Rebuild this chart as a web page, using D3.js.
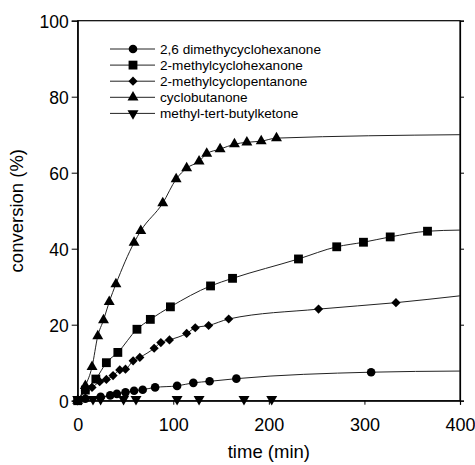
<!DOCTYPE html>
<html>
<head>
<meta charset="utf-8">
<script src="https://cdn.jsdelivr.net/npm/d3@7"></script>
<style>
  body { margin: 0; background: #fff; }
  text { font-family: Arial, "Liberation Sans", sans-serif; fill: #000; }
</style>
</head>
<body>
<svg id="chart" width="475" height="465"></svg>
<script>
// series names (legend order)
var seriesNames = ["2,6 dimethycyclohexanone", "2-methylcyclohexanone", "2-methylcyclopentanone", "cyclobutanone", "methyl-tert-butylketone"];

// 2,6 dimethycyclohexanone
var timeDMCH = [0, 8, 24, 34, 41, 50, 59, 68, 81, 104, 121, 138, 166, 307];
var convDMCH = [0, 0.5, 1.0, 1.4, 1.8, 2.2, 2.6, 2.9, 3.5, 3.9, 4.7, 5.1, 5.8, 7.5];
// 2-methylcyclohexanone
var timeMCH = [0, 8, 19, 30, 42, 62, 76, 97, 139, 162, 231, 271, 299, 327, 366];
var convMCH = [0, 2.8, 5.7, 10.0, 12.7, 18.8, 21.4, 24.7, 30.2, 32.2, 37.3, 40.5, 41.7, 43.1, 44.6];
// 2-methylcyclopentanone
var timeMCP = [0, 8, 15, 23, 30, 37, 44, 50, 58, 65, 80, 87, 96, 114, 123, 137, 158, 252, 333];
var convMCP = [0, 2.6, 3.5, 5.0, 5.6, 6.6, 8.1, 8.3, 10.5, 11.4, 13.8, 15.3, 16.0, 17.7, 19.2, 19.8, 21.5, 24.1, 25.8];
// cyclobutanone
var timeCB = [0, 8, 15, 21, 27, 33, 40, 59, 66, 89, 103, 114, 127, 135, 149, 164, 177, 192, 208];
var convCB = [0, 3.9, 8.9, 17.0, 21.2, 26.0, 30.7, 41.6, 44.7, 52.0, 58.3, 61.2, 63.0, 65.0, 66.2, 67.5, 68.0, 68.3, 69.1];
// methyl-tert-butylketone
var timeMTBK = [0, 16, 24, 48, 61, 104, 127, 174, 203];
var convMTBK = [0, 0, 0, 0, 0, 0, 0, 0, 0];

// fitted curves continue to the end of the time axis
var fitEndTime = 400;
var fitEndConv = [7.8, 44.9, 27.6, 70.0, null];

var xTicks = [0, 100, 200, 300, 400];
var yTicks = [0, 20, 40, 60, 80, 100];

var svg = d3.select("#chart"),
  margin = {top: 20.7, right: 15, bottom: 64.3, left: 77.7},
  width = 460 - margin.left,
  height = 400.7 - margin.top,
  g = svg.append("g").attr("transform", "translate(" + margin.left + "," + margin.top + ")");

var x = d3.scaleLinear().domain([0, 400]).range([0, width]);
var y = d3.scaleLinear().domain([0, 100]).range([height, 0]);

var symbols = [
  d3.symbol().type(d3.symbolCircle).size(58),
  d3.symbol().type(d3.symbolSquare).size(78),
  d3.symbol().type(d3.symbolSquare).size(42),
  d3.symbol().type(d3.symbolTriangle).size(52),
  d3.symbol().type(d3.symbolTriangle).size(52)
];
var rotations = [0, 0, 45, 0, 180];

var series = [
  {t: timeDMCH, c: convDMCH},
  {t: timeMCH, c: convMCH},
  {t: timeMCP, c: convMCP},
  {t: timeCB, c: convCB},
  {t: timeMTBK, c: convMTBK}
].map(function(s, i) {
  var pts = s.t.map(function(t, j) { return {t: t, c: s.c[j]}; });
  var linePts = pts.slice();
  if (fitEndConv[i] !== null) linePts.push({t: fitEndTime, c: fitEndConv[i]});
  return {name: seriesNames[i], pts: pts, linePts: linePts, idx: i};
});

var line = d3.line()
  .x(function(d) { return x(d.t); })
  .y(function(d) { return y(d.c); })
  .curve(d3.curveMonotoneX);

// frame
g.append("rect")
  .attr("width", width).attr("height", height)
  .attr("fill", "none").attr("stroke", "#000").attr("stroke-width", 1.2);

// lines
g.selectAll(".serie-line")
  .data(series)
  .enter().append("path")
  .attr("class", "serie-line")
  .attr("d", function(d) { return line(d.linePts); })
  .attr("fill", "none")
  .attr("stroke", "#222")
  .attr("stroke-width", 1);

// markers
g.selectAll(".serie")
  .data(series)
  .enter().append("g")
  .attr("class", "serie")
  .selectAll("path")
  .data(function(d) { return d.pts.map(function(p) { return {p: p, idx: d.idx}; }); })
  .enter().append("path")
  .attr("d", function(d) { return symbols[d.idx](); })
  .attr("transform", function(d) {
    var dy = d.idx === 4 ? -1.5 : 0;
    return "translate(" + x(d.p.t) + "," + (y(d.p.c) + dy) + ") rotate(" + rotations[d.idx] + ")";
  })
  .attr("fill", "#000");

// axes
var yAxis = g.append("g")
  .call(d3.axisLeft(y).tickValues(yTicks).tickSize(6).tickPadding(3));
yAxis.select(".domain").attr("stroke-width", 1.2);
yAxis.selectAll("text").style("font-size", "17.5px").attr("dy", "0.36em");

var xAxis = g.append("g")
  .attr("transform", "translate(0," + height + ")")
  .call(d3.axisBottom(x).tickValues(xTicks).tickSize(4).tickPadding(14));
xAxis.select(".domain").attr("stroke-width", 1.2);
xAxis.selectAll("text").style("font-size", "18px");

g.append("g")
  .attr("transform", "translate(" + width + ",0)")
  .call(d3.axisRight(y).tickValues(yTicks).tickSize(4).tickFormat(""))
  .select(".domain").attr("stroke-width", 1.2);

// axis titles
svg.append("text")
  .attr("x", margin.left + width / 2)
  .attr("y", 458)
  .attr("text-anchor", "middle")
  .style("font-size", "18.5px")
  .text("time (min)");

svg.append("text")
  .attr("transform", "translate(23," + (margin.top + height / 2) + ") rotate(-90)")
  .attr("text-anchor", "middle")
  .style("font-size", "18.5px")
  .text("conversion (%)");

// legend
var legend = svg.selectAll(".legend")
  .data(series)
  .enter().append("g")
  .attr("class", "legend")
  .attr("transform", function(d, i) { return "translate(110," + (49 + i * 16.1) + ")"; });

legend.append("line")
  .attr("x1", 0).attr("x2", 45)
  .attr("stroke", "#222").attr("stroke-width", 1);

legend.append("path")
  .attr("d", function(d) { return symbols[d.idx](); })
  .attr("transform", function(d) { return "translate(23,0) rotate(" + rotations[d.idx] + ")"; })
  .attr("fill", "#000");

legend.append("text")
  .attr("x", 50)
  .attr("dy", "0.35em")
  .style("font-size", "13.6px")
  .text(function(d) { return d.name; });
</script>
</body>
</html>
